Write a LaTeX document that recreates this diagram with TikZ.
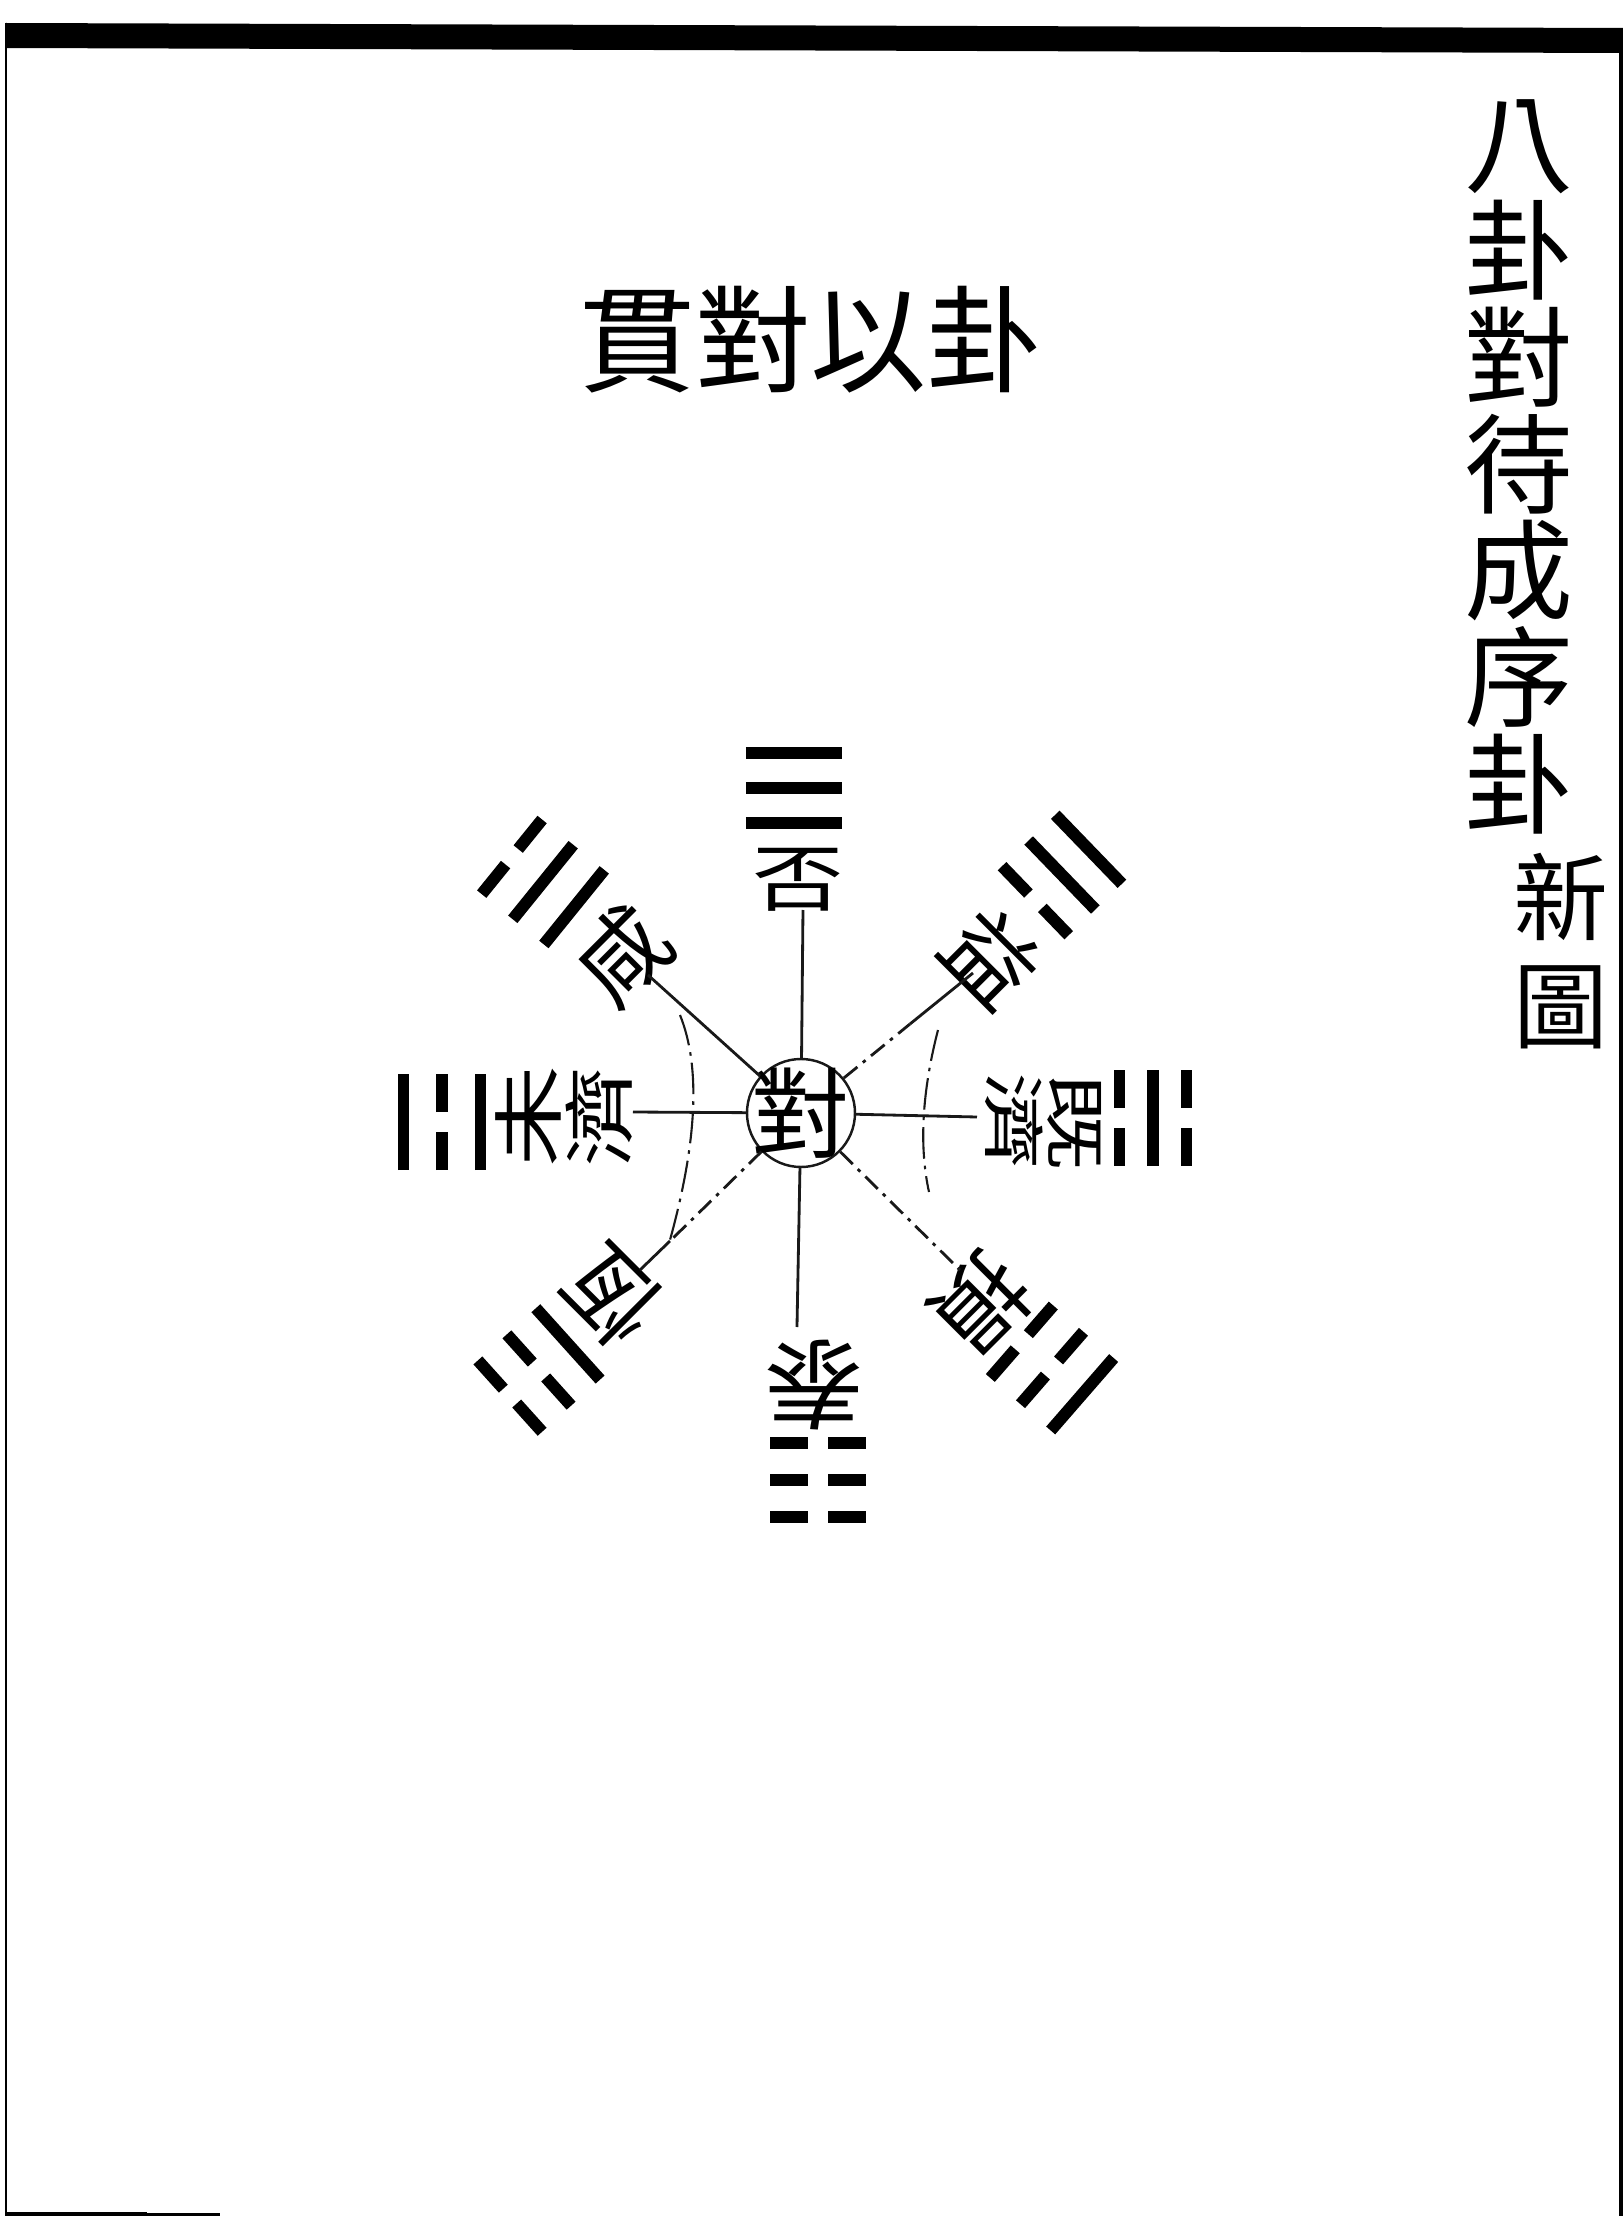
\documentclass[tikz,border=0pt]{standalone}
\usepackage{fontspec}
\newfontfamily\cjk{Noto Sans CJK TC}
\usepackage{tikz}
\def\spokewidth{0.8}
\def\barwidth{3.4pt}
\def\barhalf{0.48}
\def\bargap{0.1}
\definecolor{inkblack}{rgb}{0,0,0}
\definecolor{lineblack}{rgb}{0.1,0.1,0.1}
\newcommand{\yangbar}[1]{\draw[line width=\barwidth, color=inkblack] (-\barhalf,#1) -- (\barhalf,#1);}
\newcommand{\yinbar}[1]{\draw[line width=\barwidth, color=inkblack] (-\barhalf,#1) -- (-\bargap,#1);
    \draw[line width=\barwidth, color=inkblack] (\bargap,#1) -- (\barhalf,#1);}
\newcommand{\drawtrigram}[7]{\begin{scope}[shift={(#1,#2)}, rotate=#3]
    #5{#4} #6{0} #7{-#4}
    \end{scope}}

\begin{document}
\begin{tikzpicture}[x = 1cm, y = 1cm, scale = 1,
        spoke/.style={line width=\spokewidth, color=lineblack},
        brokenline/.style={dash pattern=on 5pt off 2pt on 1pt off 2pt},
        arcline/.style={line width=0.6, color=lineblack, dash pattern=on 9pt off 2pt on 1pt off 2pt},
        gua/.style={font=\cjk\fontsize{26}{26}\selectfont, inner sep=0pt},
        guapair/.style={font=\cjk\fontsize{29}{29}\selectfont, inner sep=0pt, align=center}]
            
            \useasboundingbox (-8.01,-11.03) rectangle (8.22,11.13);
            
            % page frame
            \fill[inkblack] (-7.95,10.90) -- (8.22,10.85) -- (8.22,10.60) -- (-7.95,10.65) -- cycle;
            \draw[line width=0.8pt, color=inkblack] (-7.95,10.90) -- (-7.95,-11.03);
            \draw[line width=1pt, color=inkblack] (8.20,10.60) -- (8.20,-11.03);
            \draw[line width=1.2pt, color=inkblack] (-7.95,-11.01) -- (-6.54,-11.01);
            \draw[line width=0.6pt, color=inkblack] (-6.54,-11.015) -- (-5.81,-11.015);
            
            % titles
            \node[font=\cjk\fontsize{31}{30.4}\selectfont, align=center, inner sep=0pt] (title) at (7.18,6.46) {八\\卦\\對\\待\\成\\序\\卦};
            \node[font=\cjk\fontsize{27}{30.7}\selectfont, align=center, inner sep=0pt] (xintu) at (7.60,1.62) {新\\圖};
            \node[font=\cjk\fontsize{33}{33}\selectfont, inner sep=0pt] (heading) at (0.10,7.73) {貫對以卦};
            
            % hub
            \node[circle, draw, minimum size=1.08cm, inner sep=0pt, line width=0.7, color=lineblack] (dui) at (0,0){};
            \node[font=\cjk\fontsize{28}{28}\selectfont, inner sep=0pt] (duichar) at (dui.center){對};
            
            % names of the hexagrams
            \node[gua, yscale=0.8] (fou) at (-0.03,2.33){否};
            \node[gua, rotate=180, font=\cjk\fontsize{28}{28}\selectfont] (tai) at (0.13,-2.72){泰};
            \node[gua, rotate=45] (xian) at (-1.79,1.58){咸};
            \node[gua, rotate=-45] (yi) at (1.91,1.56){益};
            \node[gua, rotate=135] (heng) at (-1.89,-1.83){恆};
            \node[gua, rotate=-135] (sun) at (1.81,-1.90){損};
            \node[guapair, rotate=90, yscale=0.7] (weiji) at (-2.37,-0.04){未\\濟};
            \node[guapair, rotate=-90, yscale=0.63, font=\cjk\fontsize{28}{28}\selectfont] (jiji) at (2.42,-0.09){既\\濟};
            
            \coordinate (fouend) at (0.02,2.03);
            \coordinate (taiend) at (-0.04,-2.14);
            \coordinate (weijiend) at (-1.68,0.01);
            \coordinate (jijiend) at (1.76,-0.04);
            \coordinate (xianend) at (-1.53,1.38);
            \coordinate (yimid) at (1.09,0.89);
            \coordinate (yiend) at (1.72,1.40);
            \coordinate (hengmid) at (-1.31,-1.28);
            \coordinate (hengend) at (-1.61,-1.57);
            \coordinate (sunend) at (1.59,-1.57);
            
            \draw[spoke] (dui) -- (fouend);
            \draw[spoke] (dui) -- (taiend);
            \draw[spoke] (dui) -- (weijiend);
            \draw[spoke] (dui) -- (jijiend);
            \draw[spoke] (dui) -- (xianend);
            \draw[spoke, brokenline] (dui) -- (yimid);
            \draw[spoke] (yimid) -- (yiend);
            \draw[spoke, brokenline] (dui) -- (hengmid);
            \draw[spoke] (hengmid) -- (hengend);
            \draw[spoke, brokenline] (dui) -- (sunend);
            
            % the two arcs
            \coordinate (la) at (-1.21,0.98);
            \coordinate (lb) at (-1.31,-1.27);
            \coordinate (ra) at (1.37,0.83);
            \coordinate (rb) at (1.28,-0.79);
            \draw[arcline] (la) .. controls (-1.00,0.46) and (-1.04,-0.29) .. (lb);
            \draw[arcline] (ra) .. controls (1.21,0.21) and (1.18,-0.33) .. (rb);
            
            % trigrams, outer line first
            \drawtrigram{-0.07}{3.25}{0}{0.35}{\yangbar}{\yangbar}{\yangbar}
            \drawtrigram{-2.58}{2.31}{51}{0.40}{\yinbar}{\yangbar}{\yangbar}
            \drawtrigram{2.61}{2.38}{-46}{0.37}{\yangbar}{\yangbar}{\yinbar}
            \drawtrigram{-3.59}{-0.09}{90}{0.385}{\yangbar}{\yinbar}{\yangbar}
            \drawtrigram{3.52}{-0.05}{-90}{0.335}{\yinbar}{\yangbar}{\yinbar}
            \drawtrigram{0.17}{-3.67}{180}{0.37}{\yinbar}{\yinbar}{\yinbar}
            \drawtrigram{-2.62}{-2.57}{132}{0.39}{\yinbar}{\yinbar}{\yangbar}
            \drawtrigram{2.51}{-2.55}{-131}{0.40}{\yangbar}{\yinbar}{\yinbar}
            
        \end{tikzpicture}
\end{document}
